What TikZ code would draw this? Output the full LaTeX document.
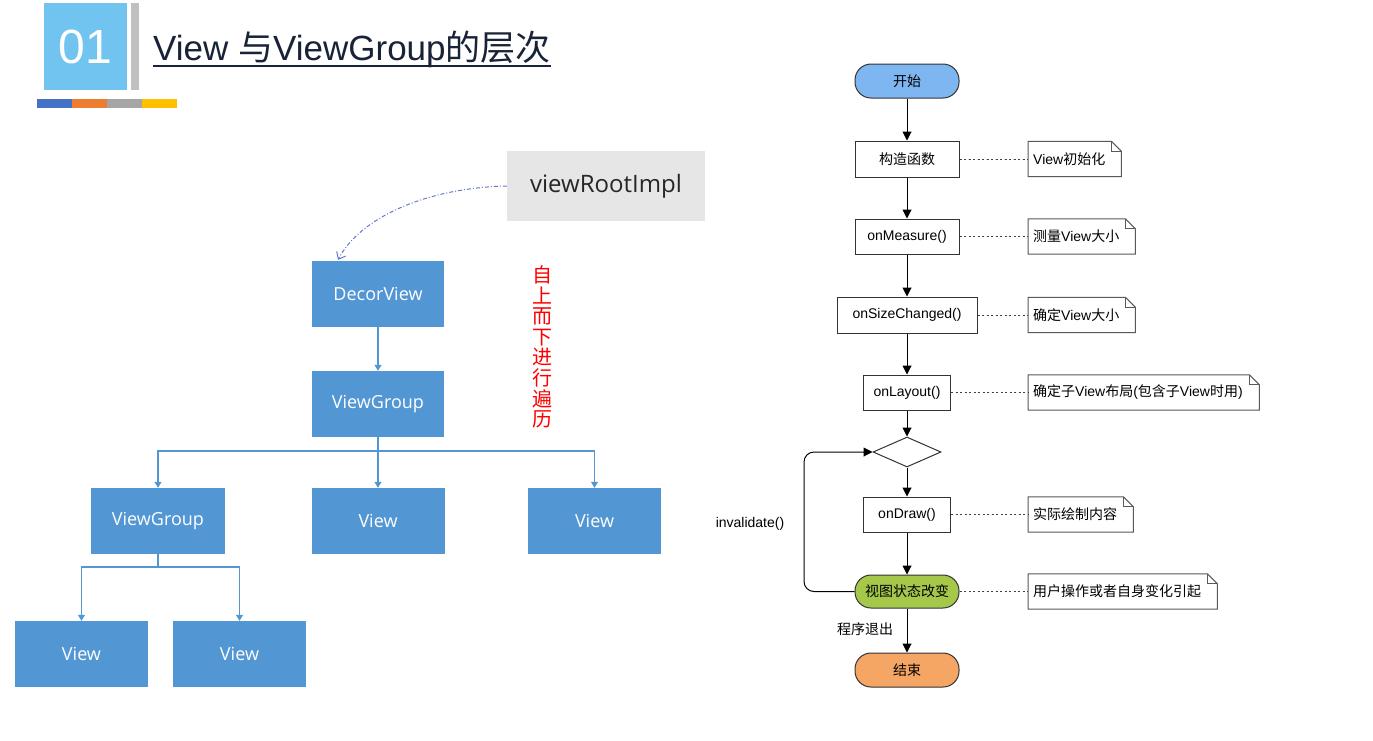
\documentclass[tikz,border=0pt]{standalone}
\usepackage{fontspec}
\setmainfont{Liberation Sans}
\newfontfamily\zhfont{Noto Sans CJK SC}
\newfontfamily\treefont{Open Sans}
\usetikzlibrary{arrows.meta,shapes.geometric}
\newcommand{\cn}[1]{{\zhfont #1}}
\newcommand{\px}[1]{\fontsize{#1}{#1}\selectfont}
\newcommand{\dogear}[1]{%
  \draw[notefold] (#1.south west) -- (#1.north west) -- ([xshift=-10pt]#1.north east)
    -- ([yshift=-10pt]#1.north east) -- (#1.south east) -- cycle;
  \draw[notefold] ([xshift=-10pt]#1.north east) |- ([yshift=-10pt]#1.north east);}
\definecolor{titleblue}{RGB}{114,196,240}
\definecolor{titlegray}{RGB}{192,192,192}
\definecolor{titleink}{RGB}{25,35,55}
\definecolor{barblue}{RGB}{68,114,196}
\definecolor{barorange}{RGB}{237,125,49}
\definecolor{bargray}{RGB}{165,165,165}
\definecolor{baryellow}{RGB}{255,192,0}
\definecolor{boxblue}{RGB}{83,150,212}
\definecolor{rootgray}{RGB}{230,230,230}
\definecolor{linkblue}{RGB}{105,120,200}
\definecolor{startblue}{RGB}{125,182,240}
\definecolor{stategreen}{RGB}{165,200,75}
\definecolor{endorange}{RGB}{245,165,100}

\begin{document}
\begin{tikzpicture}[x=1pt,y=-1pt,
  treebox/.style={fill=boxblue, text=white, minimum width=133, minimum height=66, inner sep=0, font=\treefont\px{18}},
  treeline/.style={draw=boxblue, line width=1.1pt, -{Triangle[length=6pt,width=7pt]}},
  rootlink/.style={draw=linkblue, line width=1pt, dash pattern=on 4pt off 2pt on 1pt off 2pt, -{Straight Barb[length=6pt,width=10pt]}},
  flowbox/.style={draw=black!80, line width=1pt, fill=white, minimum height=35, inner sep=0, font=\px{14}},
  pill/.style={flowbox, rounded corners=16, minimum width=104, minimum height=34},
  decision/.style={draw=black!80, line width=1pt, diamond, minimum width=68, minimum height=30, inner sep=0},
  flow/.style={line width=1pt, -{Triangle[length=9pt,width=9pt]}},
  notebox/.style={anchor=west, minimum height=35, inner xsep=5, inner ysep=0, align=left, font=\px{14}},
  notefold/.style={draw=black!65, line width=1pt},
  noteline/.style={draw=black!75, line width=1pt, dash pattern=on 2pt off 2.5pt}]
  \useasboundingbox (0,0) rectangle (1373,740);
  \fill[white] (0,0) rectangle (1373,740);

  \node[fill=titleblue, text=white, minimum width=83, minimum height=87, inner sep=0, font=\px{48}] (num) at (85.5,46.5) {01};
  \fill[titlegray] (131,3) rectangle (139,90);
  \foreach \c [count=\i] in {barblue,barorange,bargray,baryellow}
    \fill[\c] ({37+35*(\i-1)},99) rectangle ++(35,9);
  \node[anchor=base west, inner sep=0, text=titleink, font=\px{35}] (title) at (153,60) {View \cn{与}ViewGroup\cn{的层次}};
  \draw[titleink, line width=2pt] ([yshift=-6pt]title.base west) -- ([yshift=-6pt]title.base east);

  \node[fill=rootgray, text=black!85, minimum width=198, minimum height=70, inner sep=0, font=\treefont\px{24}] (root) at (606,186) {viewRootImpl};
  \node[treebox, minimum width=132] (decor) at (378,294) {DecorView};
  \node[treebox, minimum width=132] (vg1) at (378,404) {ViewGroup};
  \node[treebox, minimum width=134] (vg2) at (158,521) {ViewGroup};
  \node[treebox] (v1) at (378,521) {View};
  \node[treebox] (v2) at (594.5,521) {View};
  \node[treebox] (v3) at (81.5,654) {View};
  \node[treebox] (v4) at (239.5,654) {View};
  \coordinate (fork1) at (378,451);
  \coordinate (fork2) at (158,567);
  \draw[rootlink] (root.west) .. controls (425,188) and (360,218) .. ([xshift=-40pt,yshift=1pt]decor.north);
  \draw[treeline] (decor) -- (vg1);
  \draw[treeline] (vg1.south) -- (fork1) -| (vg2.north);
  \draw[treeline] (fork1) -- (v1.north);
  \draw[treeline] (fork1) -| (v2.north);
  \draw[treeline] (vg2.south) -- (fork2) -| (v3.north);
  \draw[treeline] (fork2) -| (v4.north);
  \node[text=red, align=center, inner sep=0, font=\zhfont\fontsize{20}{20.6}\selectfont] (order) at (542,347) {自\\上\\而\\下\\进\\行\\遍\\历};

  \node[pill, fill=startblue] (start) at (907,81) {\cn{开始}};
  \node[flowbox, minimum width=104, minimum height=36] (ctor) at (907,159) {\cn{构造函数}};
  \node[flowbox, minimum width=104] (measure) at (907,236.5) {onMeasure()};
  \node[flowbox, minimum width=140, minimum height=36] (size) at (907,315) {onSizeChanged()};
  \node[flowbox, minimum width=87] (layout) at (907,392.5) {onLayout()};
  \node[decision] (dec) at (907,452) {};
  \node[flowbox, minimum width=87] (draw) at (907,514.5) {onDraw()};
  \node[pill, fill=stategreen, minimum height=33] (state) at (907,591.5) {\cn{视图状态改变}};
  \node[pill, fill=endorange] (end) at (907,670) {\cn{结束}};
  \coordinate (loop) at (804,591.5);
  \draw[flow] (start) -- (ctor);
  \draw[flow] (ctor) -- (measure);
  \draw[flow] (measure) -- (size);
  \draw[flow] (size) -- (layout);
  \draw[flow] (layout) -- (dec);
  \draw[flow] (dec) -- (draw);
  \draw[flow] (draw) -- (state);
  \draw[flow] (state) -- (end);
  \draw[flow, rounded corners=10] (state.west) -- (loop) |- (dec.west);
  \node[font=\px{14}] (quit) at (865,629) {\cn{程序退出}};
  \node[font=\px{14}] (inv) at (750,524) {invalidate()};

  \node[notebox, text width=83] (n1) at (1028,159) {View\cn{初始化}};
  \node[notebox, text width=97] (n2) at (1028,236.5) {\cn{测量}View\cn{大小}};
  \node[notebox, text width=97] (n3) at (1028,315) {\cn{确定}View\cn{大小}};
  \node[notebox, text width=221] (n4) at (1028,392.5) {\cn{确定子}View\cn{布局}(\cn{包含子}View\cn{时用})};
  \node[notebox, text width=95] (n5) at (1028,514.5) {\cn{实际绘制内容}};
  \node[notebox, text width=179] (n6) at (1028,591.5) {\cn{用户操作或者自身变化引起}};
  \foreach \n in {n1,n2,n3,n4,n5,n6} \dogear{\n}
  \draw[noteline] (ctor.east) -- (n1.west);
  \draw[noteline] (measure.east) -- (n2.west);
  \draw[noteline] (size.east) -- (n3.west);
  \draw[noteline] (layout.east) -- (n4.west);
  \draw[noteline] (draw.east) -- (n5.west);
  \draw[noteline] (state.east) -- (n6.west);
\end{tikzpicture}
\end{document}
